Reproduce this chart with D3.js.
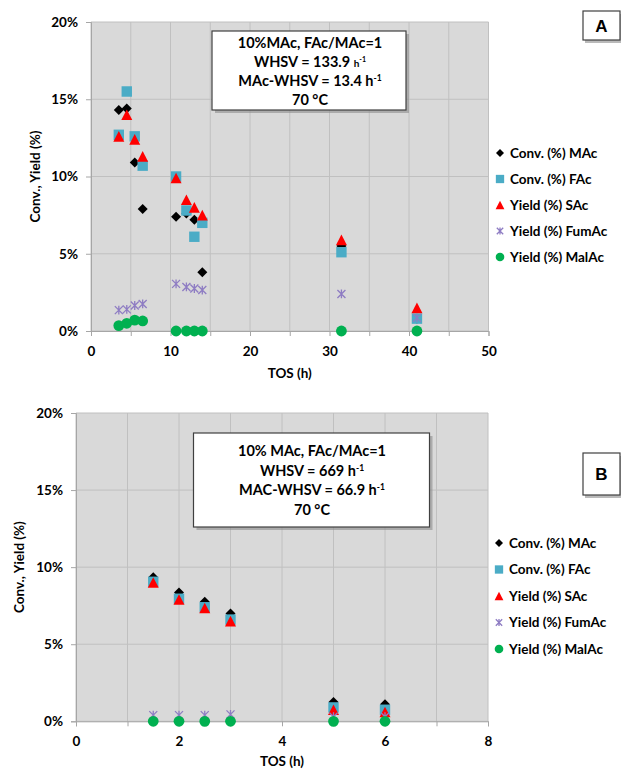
<!DOCTYPE html>
<html><head><meta charset="utf-8">
<script src="https://cdn.jsdelivr.net/npm/d3@7"></script>
<style>
html,body{margin:0;padding:0;background:#fff;}
svg{display:block;font-family:Lato,"Open Sans",sans-serif;}
</style></head>
<body>
<svg id="chart" width="621" height="774"></svg>
<script>
// ---------- data ----------
const seriesNames = ["Conv. (%) MAc","Conv. (%) FAc","Yield (%) SAc","Yield (%) FumAc","Yield (%) MalAc"];
const yTicks = [0,5,10,15,20];

const tosA = [3.5, 4.5, 5.5, 6.5, 10.7, 12, 13, 14, 31.5, 41];
const convMAcA = [14.3, 14.4, 10.9, 7.9, 7.4, 7.6, 7.2, 3.8, 5.5, 0.8];
const convFAcA = [12.7, 15.5, 12.6, 10.7, 10.0, 7.8, 6.1, 7.0, 5.1, 0.8];
const yieldSAcA = [12.6, 14.0, 12.4, 11.3, 9.9, 8.5, 8.0, 7.5, 5.9, 1.5];
const yieldFumA = [1.35, 1.4, 1.65, 1.75, 3.05, 2.85, 2.75, 2.65, 2.4, 0.85];
const yieldMalA = [0.35, 0.5, 0.7, 0.65, 0, 0, 0, 0, 0, 0];
const xTicksA = [0,10,20,30,40,50];
const xGridA = [0,5,10,15,20,25,30,35,40,45,50];

const tosB = [1.5, 2, 2.5, 3, 5, 6];
const convMAcB = [9.35, 8.35, 7.75, 7.0, 1.25, 1.1];
const convFAcB = [9.05, 7.95, 7.4, 6.6, 0.9, 0.75];
const yieldSAcB = [9.0, 7.9, 7.35, 6.5, 0.75, 0.6];
const yieldFumB = [0.4, 0.4, 0.4, 0.45, 0.3, 0.3];
const yieldMalB = [0, 0, 0, 0, 0, 0];
const xTicksB = [0,2,4,6,8];
const xGridB = [0,1,2,3,4,5,6,7,8];

const colors = ["#000000","#4bacc6","#ff0000","#8e7cc3","#00b050"];

const svg = d3.select("#chart");

function marker(g, i, x, y, scale) {
  const s = scale || 1;
  const p = d3.path();
  if (i === 0) { // diamond
    const r = 5 * s;
    p.moveTo(x, y - r); p.lineTo(x + r, y); p.lineTo(x, y + r); p.lineTo(x - r, y); p.closePath();
  } else if (i === 1) { // square
    const r = 5.2 * s;
    p.rect(x - r, y - r, 2 * r, 2 * r);
  } else if (i === 2) { // triangle
    const w = 5.5 * s, h = 5.3 * s;
    p.moveTo(x, y - h); p.lineTo(x + w, y + h); p.lineTo(x - w, y + h); p.closePath();
  } else if (i === 3) { // star
    const r = 4 * s;
    p.moveTo(x - r, y - r); p.lineTo(x + r, y + r);
    p.moveTo(x - r, y + r); p.lineTo(x + r, y - r);
    p.moveTo(x, y - r * 1.1); p.lineTo(x, y + r * 1.1);
    g.append("path").attr("d", p.toString()).attr("stroke", colors[3]).attr("stroke-width", 1.3).attr("fill", "none");
    return;
  } else { // circle
    const r = 5.4 * s;
    p.arc(x, y, r, 0, 2 * Math.PI);
  }
  g.append("path").attr("d", p.toString()).attr("fill", colors[i]);
}

function panel(cfg) {
  const g = svg.append("g");
  const x = d3.scaleLinear().domain([0, cfg.xMax]).range([cfg.x0, cfg.x1]);
  const y = d3.scaleLinear().domain([0, 20]).range([cfg.y0, cfg.y1]);

  g.append("rect").attr("x", cfg.x0).attr("y", cfg.y1).attr("width", cfg.x1 - cfg.x0).attr("height", cfg.y0 - cfg.y1).attr("fill", "#d9d9d9");
  // grid
  g.selectAll(".vg").data(cfg.xGrid).join("line")
    .attr("x1", d => x(d)).attr("x2", d => x(d)).attr("y1", cfg.y1).attr("y2", cfg.y0)
    .attr("stroke", "#c0c0c0").attr("stroke-width", 1);
  g.selectAll(".hg").data(yTicks).join("line")
    .attr("x1", cfg.x0).attr("x2", cfg.x1).attr("y1", d => y(d)).attr("y2", d => y(d))
    .attr("stroke", "#c0c0c0").attr("stroke-width", 1);

  // axes
  const xa = g.append("g").attr("transform", `translate(0,${cfg.y0})`)
    .call(d3.axisBottom(x).tickValues(cfg.xGrid).tickSize(5).tickPadding(10).tickFormat(d => cfg.xTicks.includes(d) ? d : ""));
  const ya = g.append("g").attr("transform", `translate(${cfg.x0},0)`)
    .call(d3.axisLeft(y).tickValues(yTicks).tickSize(5).tickPadding(8).tickFormat(d => d + "%"));
  [xa, ya].forEach(a => {
    a.select(".domain").attr("stroke", "#a6a6a6");
    a.selectAll(".tick line").attr("stroke", "#a6a6a6");
    a.selectAll("text").attr("font-family", "Lato, sans-serif").attr("font-weight", "bold").attr("font-size", 13.5).attr("fill", "#000");
  });

  // axis titles
  g.append("text").attr("x", (cfg.x0 + cfg.x1) / 2).attr("y", cfg.xTitleY)
    .attr("text-anchor", "middle").attr("font-weight", "bold").attr("font-size", 13.5).text("TOS (h)");
  g.append("text").attr("transform", `translate(${cfg.yTitleX},${(cfg.y0 + cfg.y1) / 2}) rotate(-90)`)
    .attr("text-anchor", "middle").attr("font-weight", "bold").attr("font-size", 13.5).text("Conv., Yield (%)");

  // points
  cfg.series.forEach((vals, i) => {
    const sg = g.append("g");
    vals.forEach((v, j) => {
      if (v == null) return;
      marker(sg, i, x(cfg.tos[j]), y(v));
    });
  });

  // text box
  const b = cfg.box;
  g.append("rect").attr("x", b.x + 3).attr("y", b.y + 3).attr("width", b.w).attr("height", b.h).attr("fill", "#8c8c8c").attr("opacity", 0.6);
  g.append("rect").attr("x", b.x).attr("y", b.y).attr("width", b.w).attr("height", b.h).attr("fill", "#fff").attr("stroke", "#404040").attr("stroke-width", 1.2);
  b.lines.forEach((ln, k) => {
    const t = g.append("text").attr("x", b.cx).attr("y", b.ly0 + k * b.dy)
      .attr("text-anchor", "middle").attr("font-weight", "bold").attr("font-size", 14.5);
    if (ln.includes("|h-1")) {
      const p2 = ln.split("|h-1");
      t.append("tspan").text(p2[0]);
      t.append("tspan").attr("font-size", 10).text("h");
      t.append("tspan").attr("font-size", 7).attr("dy", -5).text("-1");
    } else if (ln.includes(" h-1")) {
      const parts = ln.split(" h-1");
      t.append("tspan").text(parts[0] + " h");
      t.append("tspan").attr("font-size", 8.5).attr("dy", -5).text("-1");
    } else {
      t.text(ln);
    }
  });

  // letter box
  const L = cfg.letter;
  g.append("rect").attr("x", L.x + 2).attr("y", L.y + 3).attr("width", L.w).attr("height", L.h).attr("fill", "#8c8c8c").attr("opacity", 0.6);
  g.append("rect").attr("x", L.x).attr("y", L.y).attr("width", L.w).attr("height", L.h).attr("fill", "#fff").attr("stroke", "#404040").attr("stroke-width", 1.2);
  g.append("text").attr("x", L.x + L.w / 2).attr("y", L.y + L.h / 2 + 6).attr("text-anchor", "middle")
    .attr("font-weight", "bold").attr("font-size", 17).attr("font-family", "Liberation Sans, Arial, sans-serif").text(L.t);

  // legend
  seriesNames.forEach((n, i) => {
    const ly = cfg.legY + i * cfg.legDy;
    marker(g, i, cfg.legX, ly, 0.8);
    g.append("text").attr("x", cfg.legX + 10).attr("y", ly + 4.5).attr("font-weight", "bold").attr("font-size", 13.5).text(n);
  });
}

panel({
  tos: tosA, series: [convMAcA, convFAcA, yieldSAcA, yieldFumA, yieldMalA],
  xMax: 50, xTicks: xTicksA, xGrid: xGridA,
  x0: 91, x1: 488.5, y0: 331, y1: 22,
  xTitleY: 378, yTitleX: 40,
  box: {x: 212, y: 31, w: 194, h: 79, cx: 310, ly0: 48, dy: 19, lines: ["10%MAc, FAc/MAc=1", "WHSV = 133.9 |h-1", "MAc-WHSV = 13.4 h-1", "70 °C"]},
  letter: {x: 583, y: 11, w: 37, h: 29, t: "A"},
  legX: 500, legY: 153, legDy: 26
});

panel({
  tos: tosB, series: [convMAcB, convFAcB, yieldSAcB, yieldFumB, yieldMalB],
  xMax: 8, xTicks: xTicksB, xGrid: xGridB,
  x0: 76, x1: 488, y0: 721.3, y1: 413,
  xTitleY: 766, yTitleX: 24,
  box: {x: 193.5, y: 433, w: 236, h: 94, cx: 312, ly0: 456, dy: 19.5, lines: ["10% MAc, FAc/MAc=1", "WHSV = 669 h-1", "MAC-WHSV = 66.9 h-1", "70 °C"]},
  letter: {x: 583, y: 453, w: 37, h: 42, t: "B"},
  legX: 499, legY: 543, legDy: 26.5
});
</script>
</body></html>
